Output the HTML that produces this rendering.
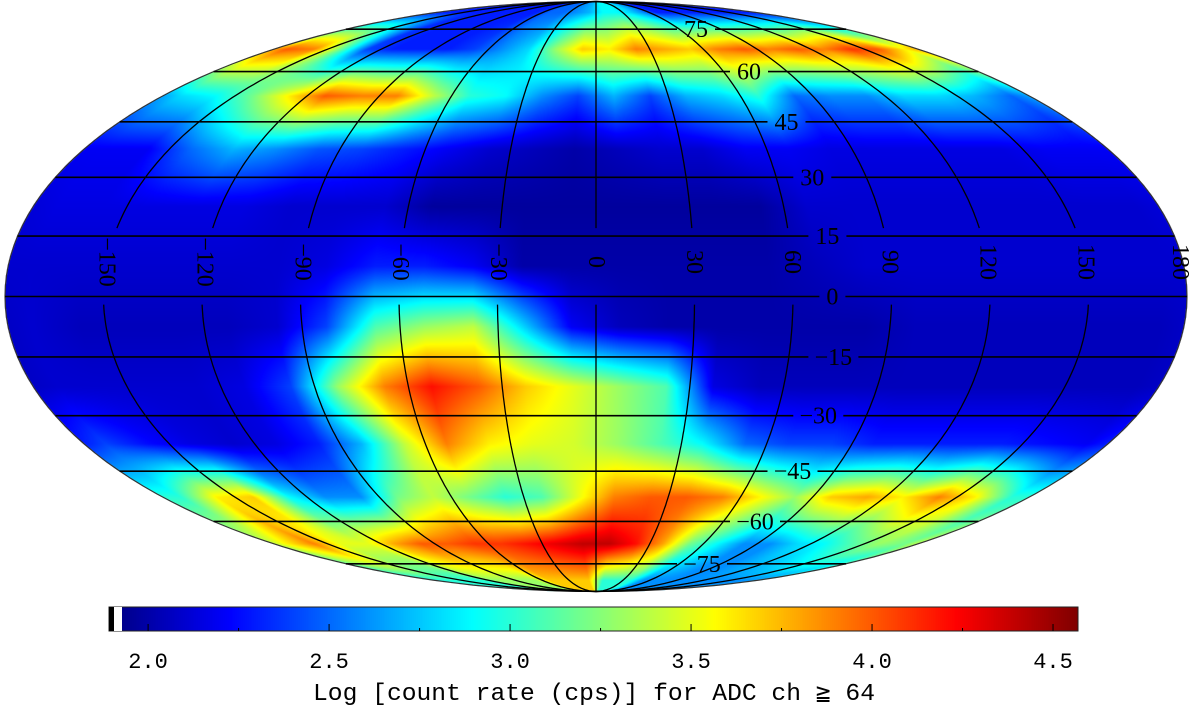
<!DOCTYPE html>
<html><head><meta charset="utf-8"><style>
html,body{margin:0;padding:0;background:#fff;width:1200px;height:712px;overflow:hidden}
#wrap{position:relative;width:1200px;height:712px}
canvas,svg{position:absolute;left:0;top:0}
text{font-family:"Liberation Serif",serif;fill:#000}
text.mono{font-family:"Liberation Mono",monospace}
</style></head><body>
<div id="wrap">
<canvas id="map" width="1200" height="712"></canvas>
<svg id="ov" width="1200" height="712"></svg>
</div>
<script>
// ---- data: log count rate per 15x15 deg cell ----
const lonCenters = [-172.5,-157.5,-142.5,-127.5,-112.5,-97.5,-82.5,-67.5,-52.5,-37.5,-22.5,-7.5,7.5,22.5,37.5,52.5,67.5,82.5,97.5,112.5,127.5,142.5,157.5,172.5];
const latCenters = [82.5,67.5,52.5,37.5,22.5,7.5,-7.5,-22.5,-37.5,-52.5,-67.5,-82.5];
const rowN82 = [2.3,2.3,2.3,2.3,2.3,2.3,2.3,2.3,2.5,2.5,2.6,2.7,2.9,2.9,2.8,2.6,2.3,2.3,2.3,2.3,2.3,2.3,2.3,2.3];
const rowN67 = [4.0,3.9,3.2,2.4,2.3,2.3,2.3,2.4,2.6,2.8,3.3,3.7,3.6,3.9,3.8,3.7,3.9,4.0,3.9,4.0,3.9,4.1,4.0,3.6];
const rowN52 = [2.8,2.9,3.2,3.6,4.0,3.9,3.9,3.4,3.0,2.9,2.6,2.4,2.7,2.4,2.7,2.8,3.0,2.5,2.6,2.6,2.8,2.8,2.7,2.5];
const rowN37 = [2.2,2.2,2.5,2.7,2.6,2.45,2.4,2.3,2.2,2.1,2.05,2.0,2.05,2.1,2.1,2.2,2.2,2.15,2.15,2.15,2.15,2.15,2.2,2.2];
const rowN22 = [2.15,2.15,2.15,2.15,2.15,2.1,2.1,2.1,1.97,1.97,1.97,1.97,1.97,1.97,1.97,1.97,2.1,2.1,2.1,2.1,2.1,2.1,2.1,2.1];
const rowN07 = [2.1,2.1,2.1,2.1,2.1,2.1,2.15,2.3,2.3,2.2,2.0,2.0,2.0,2.0,2.0,2.0,2.05,2.1,2.1,2.1,2.1,2.1,2.1,2.1];
const rowS07 = [2.1,2.05,2.05,2.05,2.05,2.1,2.4,3.1,3.3,3.4,2.8,2.2,2.05,2.0,2.0,2.0,2.0,2.0,2.05,2.05,2.05,2.05,2.05,2.05];
const rowS22 = [2.1,2.1,2.1,2.1,2.15,2.4,3.3,3.9,4.2,4.0,3.7,3.5,3.3,3.1,2.15,2.05,2.05,2.05,2.05,2.05,2.05,2.05,2.05,2.05];
const rowS37 = [2.4,2.25,2.15,2.1,2.15,2.3,2.7,3.4,3.9,3.6,3.5,3.45,3.3,3.1,2.9,2.5,2.4,2.4,2.3,2.3,2.3,2.3,2.25,2.2];
const rowS52 = [3.0,3.6,3.7,2.9,2.6,2.6,3.2,3.4,3.2,3.0,3.1,3.5,3.9,4.0,4.0,3.9,3.6,3.3,3.7,3.8,3.6,3.9,3.6,3.0];
const rowS67 = [3.6,3.9,3.5,3.5,3.8,4.0,4.0,4.1,4.1,4.2,4.3,4.4,4.4,4.2,3.8,3.2,2.9,2.6,2.6,2.8,2.9,3.1,3.3,3.2];
const rowS82 = [3.0,3.0,3.0,3.0,3.3,3.3,3.3,3.3,3.7,3.7,3.7,3.7,3.0,3.0,3.0,2.6,2.6,2.6,2.6,2.6,2.6,2.6,2.6,2.6];
const cbTicks = [2.0,2.5,3.0,3.5,4.0,4.5];
const lonTicks = [-150,-120,-90,-60,-30,0,30,60,90,120,150,180];
const latTicks = [75,60,45,30,15,0,-15,-30,-45,-60,-75];
const vMin = 1.892, vMax = 4.569;
const grid = [rowN82,rowN67,rowN52,rowN37,rowN22,rowN07,rowS07,rowS22,rowS37,rowS52,rowS67,rowS82];

// ---- projection ----
const CX=596, CY=296.5, A=591, B=295;
function theta(latDeg){
  const p=latDeg*Math.PI/180; if(Math.abs(latDeg)>=90) return Math.sign(latDeg)*Math.PI/2;
  let t=p; for(let i=0;i<30;i++){const f=2*t+Math.sin(2*t)-Math.PI*Math.sin(p); const d=2+2*Math.cos(2*t); if(Math.abs(d)<1e-9)break; t-=f/d;} return t;
}
function proj(lon,lat){const t=theta(lat);return [CX+A*Math.cos(t)*lon/180, CY-B*Math.sin(t)];}
function jet(v){
  let t=(v-vMin)/(vMax-vMin); t=Math.max(0,Math.min(1,t));
  const c=x=>Math.max(0,Math.min(1,1.5-Math.abs(x)));
  return [c(4*t-3)*255,c(4*t-2)*255,c(4*t-1)*255];
}
function sample(lon,lat){
  let f=(lon-lonCenters[0])/15; let g=(latCenters[0]-lat)/15;
  g=Math.max(0,Math.min(latCenters.length-1,g));
  const n=lonCenters.length;
  const i0=Math.floor(f), fi=f-i0, j0=Math.floor(g), fj=g-j0;
  const w=i=>((i%n)+n)%n; const j1=Math.min(j0+1,latCenters.length-1);
  const a=grid[j0][w(i0)], b=grid[j0][w(i0+1)], c=grid[j1][w(i0)], d=grid[j1][w(i0+1)];
  return (a*(1-fi)+b*fi)*(1-fj)+(c*(1-fi)+d*fi)*fj;
}
// ---- draw map ----
const cv=document.getElementById('map'), ctx=cv.getContext('2d');
const img=ctx.createImageData(1200,712);
for(let py=0;py<600;py++){
  const s=(CY-(py+0.5))/B; if(Math.abs(s)>=1) continue;
  const t=Math.asin(s); const lat=Math.asin((2*t+Math.sin(2*t))/Math.PI)*180/Math.PI;
  const hw=A*Math.cos(t);
  for(let px=0;px<1200;px++){
    const dx=px+0.5-CX; if(Math.abs(dx)>hw) continue;
    const lon=180*dx/hw;
    const col=jet(sample(lon,lat)); const k=(py*1200+px)*4;
    img.data[k]=col[0];img.data[k+1]=col[1];img.data[k+2]=col[2];img.data[k+3]=255;
  }
}
// colorbar
const cbX0=109, cbX1=1078, cbY0=607, cbY1=631;
for(let px=cbX0;px<cbX1;px++){
  const v=vMin+(px-cbX0+0.5)/(cbX1-cbX0)*(vMax-vMin); const col=jet(v);
  for(let py=cbY0;py<cbY1;py++){const k=(py*1200+px)*4;img.data[k]=col[0];img.data[k+1]=col[1];img.data[k+2]=col[2];img.data[k+3]=255;}
}
ctx.putImageData(img,0,0);

// ---- overlay ----
const NS='http://www.w3.org/2000/svg', ov=document.getElementById('ov');
function el(tag,attrs,parent){const e=document.createElementNS(NS,tag);for(const k in attrs)e.setAttribute(k,attrs[k]);(parent||ov).appendChild(e);return e;}
function pathFromPts(pts){return 'M'+pts.map(p=>p[0].toFixed(1)+','+p[1].toFixed(1)).join('L');}
// outline
const outline=[];for(let a=0;a<=360;a+=2){const r=a*Math.PI/180;outline.push([CX+A*Math.cos(r),CY+B*Math.sin(r)]);}
const ol=el('path',{d:pathFromPts(outline)+'Z',fill:'none',stroke:'#333','stroke-width':1.2});


// meridians
lonTicks.forEach(lon=>{
  if(Math.abs(lon)===180) return;
  const p1=[],p2=[];
  for(let lat=90;lat>=17;lat-=1)p1.push(proj(lon,lat));
  for(let lat=-2;lat>=-90;lat-=1)p2.push(proj(lon,lat));
  const m=el('path',{d:pathFromPts(p1)+pathFromPts(p2),fill:'none',stroke:'#000','stroke-width':1.3});
  
  
});
// longitude labels
lonTicks.forEach(lon=>{
  const p=proj(lon,8); const x=lon===180?1180:p[0];
  const t=el('text',{x:0,y:0,'font-size':24,'text-anchor':'middle','dominant-baseline':'central',transform:`translate(${x.toFixed(1)},262) rotate(90)`});
  t.textContent=(lon<0?'\u2212':'')+Math.abs(lon);
  
  
});
// parallels & labels
latTicks.forEach(lat=>{
  const t=theta(lat); const y=CY-B*Math.sin(t); const hw=A*Math.cos(t);
  const lx=CX+hw*72/180+(lat<0?6:0);
  const label=(lat<0?'\u2212':'')+Math.abs(lat);
  const wlab=label.length*12+14;
  const ln=el('path',{d:`M${(CX-hw).toFixed(1)},${y.toFixed(1)}L${(lx-wlab/2).toFixed(1)},${y.toFixed(1)}M${(lx+wlab/2).toFixed(1)},${y.toFixed(1)}L${(CX+hw).toFixed(1)},${y.toFixed(1)}`,stroke:'#000','stroke-width':1.6,fill:'none'});
  
  
  const tx=el('text',{x:lx.toFixed(1),y:(y+8).toFixed(1),'font-size':24,'text-anchor':'middle'});
  tx.textContent=label;
  
  
});
// colorbar frame, marker, ticks, labels
const fr=el('rect',{x:cbX0,y:cbY0,width:cbX1-cbX0,height:cbY1-cbY0,fill:'none',stroke:'#222','stroke-width':1});


const mk1=el('rect',{x:cbX0,y:cbY0,width:5,height:cbY1-cbY0,fill:'#000'});


const mk2=el('rect',{x:cbX0+5,y:cbY0,width:8,height:cbY1-cbY0,fill:'#fff'});


const cbx=v=>cbX0+(v-vMin)/(vMax-vMin)*(cbX1-cbX0);
cbTicks.forEach(v=>{
  const x=cbx(v);
  const tk=el('path',{d:`M${x},${cbY1}v-7`,stroke:'#000','stroke-width':1});
  
  
  const t=el('text',{x:x,y:668,'font-size':22,'text-anchor':'middle','class':'mono'});
  t.textContent=v.toFixed(1);
  
  
});
[2.25,2.75,3.25,3.75,4.25].forEach(v=>{const x=cbx(v);
  const mt=el('path',{d:`M${x},${cbY1}v-3`,stroke:'#000','stroke-width':1});
  
  });
const ttl=el('text',{x:313,y:700,'font-size':24,'class':'mono',textLength:562,lengthAdjust:'spacingAndGlyphs'});
ttl.textContent='Log [count rate (cps)] for ADC ch \u2267 64';


</script>
</body></html>
